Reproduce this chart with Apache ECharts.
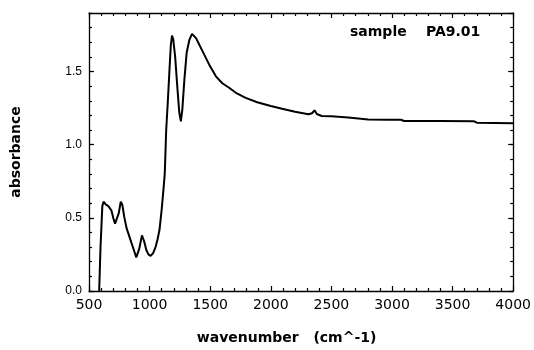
<!DOCTYPE html>
<html>
<head>
<meta charset="utf-8">
<script src="https://cdn.jsdelivr.net/npm/echarts@6/dist/echarts.min.js"></script>
<style>html,body{margin:0;padding:0;background:#fff}#c{width:534px;height:350px}</style>
</head>
<body>
<div id="c"></div>
<script>
const wavenumber = [584, 595, 610, 620, 640, 660, 685, 700, 715, 730, 745, 762, 775, 790, 810, 830, 850, 870, 890, 900, 915, 937, 955, 973, 990, 1008, 1030, 1049, 1065, 1082, 1100, 1115, 1125, 1137, 1150, 1164, 1175, 1185, 1195, 1211, 1230, 1245, 1258, 1270, 1287, 1306, 1328, 1350, 1365, 1383, 1400, 1424, 1460, 1492, 1547, 1600, 1656, 1720, 1793, 1888, 2000, 2093, 2200, 2311, 2340, 2361, 2380, 2420, 2500, 2639, 2803, 2967, 3074, 3100, 3400, 3678, 3700, 4000];
const absorbance = [0.0, 0.30, 0.58, 0.61, 0.59, 0.58, 0.55, 0.50, 0.46, 0.46, 0.53, 0.61, 0.59, 0.51, 0.43, 0.38, 0.33, 0.28, 0.23, 0.23, 0.29, 0.38, 0.34, 0.28, 0.25, 0.24, 0.26, 0.30, 0.35, 0.42, 0.56, 0.70, 0.80, 1.10, 1.29, 1.51, 1.68, 1.745, 1.72, 1.60, 1.38, 1.22, 1.16, 1.24, 1.445, 1.63, 1.716, 1.757, 1.75, 1.728, 1.70, 1.66, 1.60, 1.547, 1.467, 1.42, 1.389, 1.35, 1.32, 1.29, 1.265, 1.246, 1.225, 1.208, 1.215, 1.235, 1.21, 1.196, 1.195, 1.185, 1.172, 1.17, 1.17, 1.162, 1.162, 1.16, 1.15, 1.147];
const xTitle = 'wavenumber   (cm^-1)';
const yTitle = 'absorbance';
const sampleLabel = 'sample';
const sampleName = 'PA9.01';

const data = wavenumber.map((x, i) => [x, absorbance[i]]);
const black = '#000';
const lineW = 1.3;

function xAx(pos, labels) {
  return {
    type: 'value', position: pos, min: 500, max: 4000, interval: 500,
    axisLine: { show: true, onZero: false, lineStyle: { color: black, width: lineW } },
    axisTick: { show: true, inside: true, length: 5, lineStyle: { color: black, width: 1.2 } },
    minorTick: { show: true, splitNumber: 5, length: 3, lineStyle: { color: black, width: 1.2 } },
    splitLine: { show: false }, minorSplitLine: { show: false },
    axisLabel: labels ? { show: true, margin: 7, color: black, fontFamily: 'DejaVu Sans', fontSize: 14, formatter: v => String(v) } : { show: false },
    name: labels ? xTitle : '', nameLocation: 'middle', nameGap: 40,
    nameTextStyle: { color: black, fontFamily: 'DejaVu Sans', fontWeight: 'bold', fontSize: 14, padding: [0, 29, 0, 0] }
  };
}
function yAx(pos, major, labels) {
  return {
    type: 'value', position: pos, min: 0, max: 1.9, interval: major ? 0.5 : 0.1,
    axisLine: { show: major, onZero: false, lineStyle: { color: black, width: lineW } },
    axisTick: { show: true, inside: true, length: major ? 5 : 3, lineStyle: { color: black, width: 1.2 } },
    splitLine: { show: false },
    axisLabel: labels ? { show: true, margin: 7, color: black, fontFamily: 'Liberation Sans', fontSize: 12, showMaxLabel: false, formatter: v => v.toFixed(1) } : { show: false },
    name: labels ? yTitle : '', nameLocation: 'middle', nameGap: 66, nameRotate: 90,
    nameTextStyle: { color: black, fontFamily: 'DejaVu Sans', fontWeight: 'bold', fontSize: 14 }
  };
}

const chart = echarts.init(document.getElementById('c'), null, { renderer: 'canvas' });
chart.setOption({
  animation: false,
  backgroundColor: '#fff',
  grid: { left: 89, right: 18, top: 13, bottom: 57, containLabel: false },
  xAxis: [xAx('bottom', true), xAx('top', false)],
  yAxis: [yAx('left', true, true), yAx('left', false, false), yAx('right', true, false), yAx('right', false, false)],
  graphic: [
    { type: 'text', left: 350, top: 25, style: { text: sampleLabel, fill: black, font: 'bold 14px "DejaVu Sans"' } },
    { type: 'text', left: 426, top: 25, style: { text: sampleName, fill: black, font: 'bold 14px "DejaVu Sans"' } }
  ],
  series: [{
    type: 'line', xAxisIndex: 0, yAxisIndex: 0, data: data,
    showSymbol: false, symbol: 'none', smooth: false,
    lineStyle: { color: black, width: 2 }
  }]
});
</script>
</body>
</html>
